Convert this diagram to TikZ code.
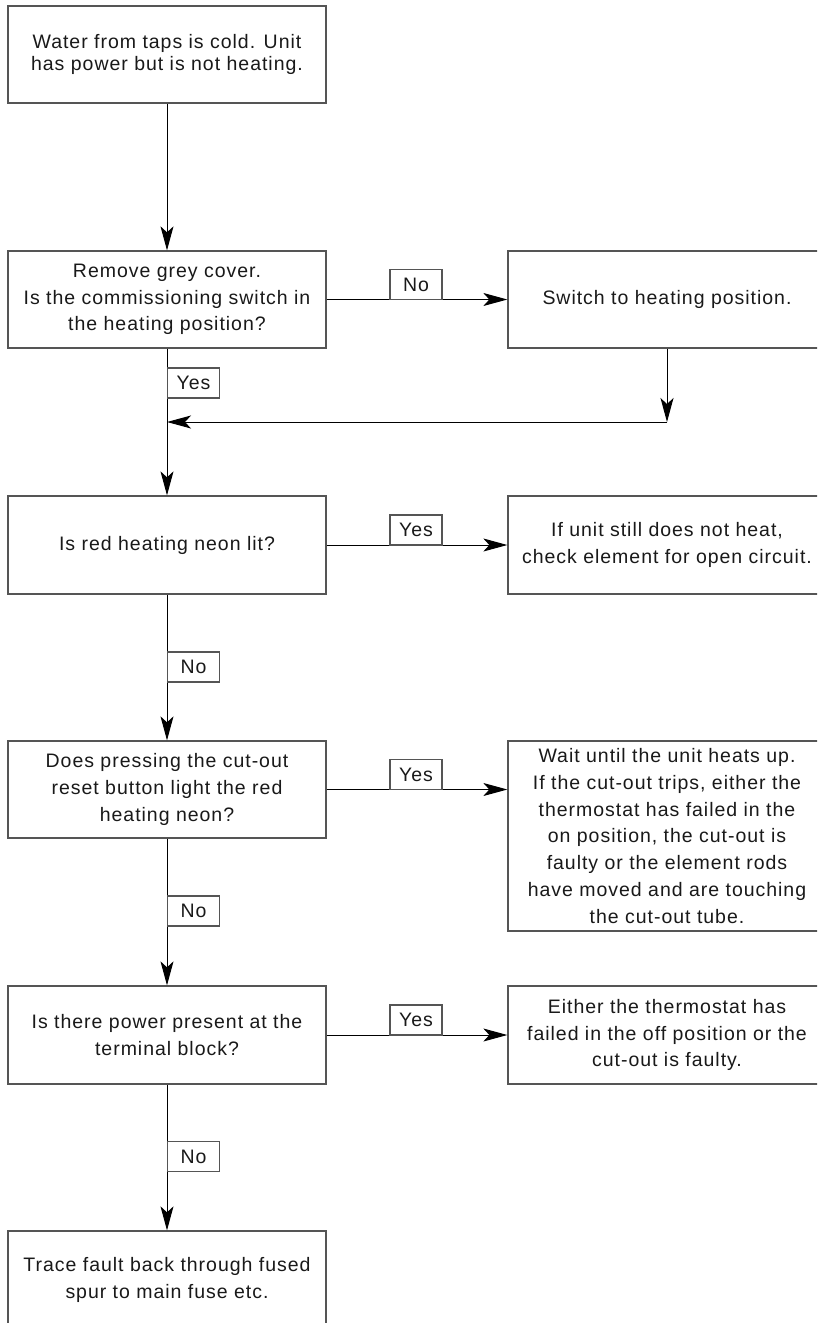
\documentclass[tikz,border=0pt]{standalone}
\usepackage{fontspec}
\setmainfont[LetterSpace=5]{Liberation Sans}
\usetikzlibrary{arrows.meta}
\definecolor{boxline}{HTML}{555555}
\begin{document}
\begin{tikzpicture}[x=1pt,y=-1pt,
  every node/.style={font=\fontsize{19.5}{26.7}\selectfont, text=black!90},
  flowbox/.style={draw=boxline, line width=1.3pt, fill=white, minimum width=318pt, inner sep=0pt, align=center},
  tag/.style={draw=boxline, line width=1.1pt, fill=white, minimum width=52pt, minimum height=30pt, inner sep=0pt},
  conn/.style={draw=black, line width=1pt},
  arr/.style={conn, -{Stealth[length=24pt,width=13pt,inset=6pt]}}]
\useasboundingbox (0,0) rectangle (817,1323);
\fill[white] (0,0) rectangle (817,1323);
\clip (0,0) rectangle (817,1323);

% left column
\node[flowbox, minimum height=97pt, font=\fontsize{19.5}{22}\selectfont] (q1) at (167,54.5) {Water from taps is cold. Unit\\has power but is not heating.};
\node[flowbox, minimum height=97pt] (q2) at (167,299.5) {Remove grey cover.\\Is the commissioning switch in\\the heating position?};
\node[flowbox, minimum height=98pt] (q3) at (167,545) {Is red heating neon lit?};
\node[flowbox, minimum height=97pt] (q4) at (167,789.5) {Does pressing the cut-out\\reset button light the red\\heating neon?};
\node[flowbox, minimum height=98pt] (q5) at (167,1035) {Is there power present at the\\terminal block?};
\node[flowbox, minimum height=98pt] (q6) at (167,1280) {Trace fault back through fused\\spur to main fuse etc.};

% right column
\node[flowbox, minimum height=97pt] (r2) at (667,299.5) {Switch to heating position.};
\node[flowbox, minimum height=98pt] (r3) at (667,545) {If unit still does not heat,\\check element for open circuit.};
\node[flowbox, minimum height=190pt] (r4) at (667,836) {Wait until the unit heats up.\\If the cut-out trips, either the\\thermostat has failed in the\\on position, the cut-out is\\faulty or the element rods\\have moved and are touching\\the cut-out tube.};
\node[flowbox, minimum height=98pt] (r5) at (667,1035) {Either the thermostat has\\failed in the off position or the\\cut-out is faulty.};

% connectors
\coordinate (j) at (667,422);
\coordinate (k) at (167,422);
\draw[arr] (q1.south) -- (q2.north);
\draw[arr] (q2.east) -- (r2.west);
\draw[arr] (r2.south) -- (j);
\draw[arr] (j) -- (k);
\draw[arr] (q2.south) -- (q3.north);
\draw[arr] (q3.east) -- (r3.west);
\draw[arr] (q3.south) -- (q4.north);
\draw[arr] (q4.east) -- (q4.east -| r4.west);
\draw[arr] (q4.south) -- (q5.north);
\draw[arr] (q5.east) -- (r5.west);
\draw[arr] (q5.south) -- (q6.north);

% labels
\node[tag] (t1) at (416,284.5) {No};
\node[tag] (t2) at (193.5,383) {Yes};
\node[tag] (t3) at (416,530) {Yes};
\node[tag] (t4) at (193.5,667) {No};
\node[tag] (t5) at (416,774.5) {Yes};
\node[tag] (t6) at (193.5,911) {No};
\node[tag] (t7) at (416,1020) {Yes};
\node[tag] (t8) at (193.5,1156.5) {No};
\end{tikzpicture}
\end{document}
